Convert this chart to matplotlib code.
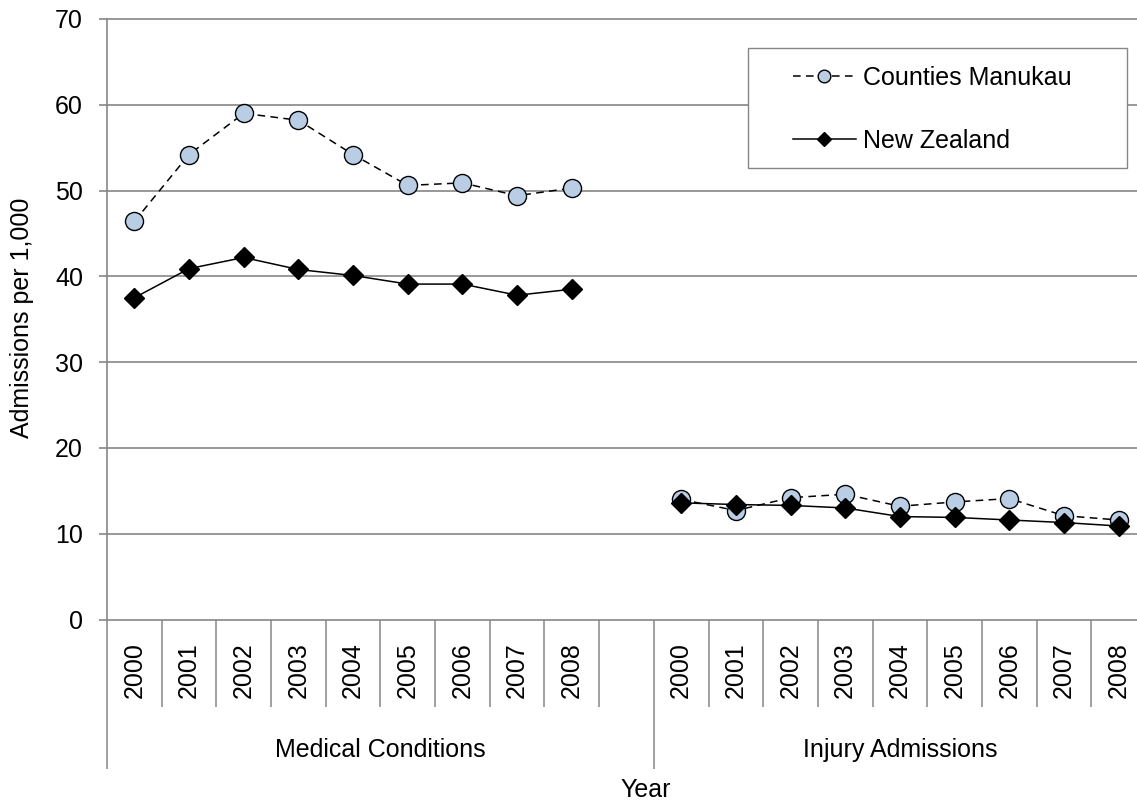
import matplotlib
matplotlib.use("Agg")
import matplotlib.pyplot as plt
import numpy as np
from matplotlib.patches import Rectangle

plt.rcParams['font.family'] = ['Liberation Sans', 'DejaVu Sans']

# ---- data -------------------------------------------------------------
groups = ["Medical Conditions", "Injury Admissions"]
years = ["2000", "2001", "2002", "2003", "2004", "2005", "2006", "2007", "2008"]

medical_cm = [46.4, 54.2, 59.0, 58.2, 54.2, 50.6, 50.9, 49.4, 50.3]
medical_nz = [37.5, 40.9, 42.2, 40.8, 40.1, 39.1, 39.1, 37.8, 38.5]
injury_cm = [14.0, 12.7, 14.2, 14.6, 13.2, 13.7, 14.1, 12.1, 11.6]
injury_nz = [13.6, 13.4, 13.3, 13.0, 12.0, 11.9, 11.6, 11.3, 10.9]

series_names = ["Counties Manukau", "New Zealand"]
y_ticks = [0, 10, 20, 30, 40, 50, 60, 70]

# ---- layout -----------------------------------------------------------
W, H = 1137, 800
GRID = "#868686"
FS = 18

fig = plt.figure(figsize=(W / 100, H / 100), dpi=100)
ax = fig.add_axes([107 / W, 1 - 619.5 / H, (1146 - 107) / W, (619.5 - 19) / H])

# one category slot is left empty between the two groups
cat_labels = years + [""] + years
cm_vals = medical_cm + [np.nan] + injury_cm
nz_vals = medical_nz + [np.nan] + injury_nz
x = np.arange(len(cat_labels))

ax.plot(x, cm_vals, color="black", lw=1.1, ls=(0, (5, 3.5)),
        marker="o", ms=13, mfc="#B9CDE5", mec="black", mew=1.0,
        label=series_names[0], zorder=3)
ax.plot(x, nz_vals, color="black", lw=1.1,
        marker="D", ms=10.5, mfc="black", mec="black", mew=1.0,
        label=series_names[1], zorder=4)

ax.set_xlim(-0.5, len(cat_labels) - 0.5)
ax.set_ylim(y_ticks[0], y_ticks[-1])
ax.set_yticks(y_ticks)
ax.set_xticks([])
ax.yaxis.grid(True, color=GRID, lw=1.2)
ax.set_axisbelow(True)
for gl in ax.get_ygridlines():
    gl.set_clip_on(False)

for side in ("top", "right", "bottom"):
    ax.spines[side].set_visible(False)
ax.spines["left"].set_color(GRID)
ax.spines["left"].set_linewidth(1.2)
ax.tick_params(axis="y", direction="out", length=5.8, width=1.2,
               color=GRID, pad=11.5, labelsize=FS, labelcolor="black")

# ---- multi-level category axis ------------------------------------------
trans = ax.get_xaxis_transform()
for xi, lab in zip(x, cat_labels):
    if lab:
        ax.text(xi, -0.084, lab, rotation=90, ha="center", va="center",
                fontsize=FS, transform=trans, clip_on=False)

n = len(cat_labels)
group_edges = [-0.5, len(years) + 0.5, n - 0.5]
for b in np.arange(-0.5, n, 1.0):
    depth = -0.249 if any(abs(b - g) < 1e-9 for g in group_edges) else -0.1456
    ax.plot([b, b], [0, depth], transform=trans, color=GRID, lw=1.1,
            clip_on=False, solid_capstyle="butt")

group_centers = [(group_edges[0] + group_edges[1]) / 2,
                 (group_edges[1] + group_edges[2]) / 2]
for gx, name in zip(group_centers, groups):
    ax.text(gx, -0.2288, name, ha="center", va="baseline", fontsize=FS,
            transform=trans, clip_on=False)

ax.text(0.5188, -0.2953, "Year", ha="center", va="baseline", fontsize=FS,
        transform=ax.transAxes, clip_on=False)
fig.text(22.5 / W, 1 - 318 / H, "Admissions per 1,000", rotation=90,
         ha="center", va="center", fontsize=FS)

# ---- legend -------------------------------------------------------------
fig.patches.append(Rectangle((748 / W, 1 - 168 / H), (1127 - 748) / W,
                             (168 - 48) / H, transform=fig.transFigure,
                             facecolor="white", edgecolor=GRID, lw=1.0,
                             zorder=2))
handles, labels = ax.get_legend_handles_labels()
leg = fig.legend(handles, labels, loc="upper left",
                 bbox_to_anchor=(793 / W, 1 - 66 / H),
                 frameon=False, borderpad=0, borderaxespad=0,
                 handlelength=2.5, handletextpad=0.3, labelspacing=1.55,
                 fontsize=FS, markerscale=0.7)
leg.set_zorder(5)

fig.savefig("out.png", dpi=100)
